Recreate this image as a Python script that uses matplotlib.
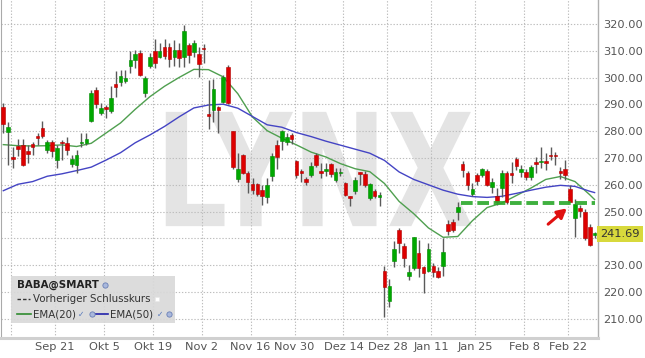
import numpy as np
import matplotlib
matplotlib.use("Agg")
import matplotlib.pyplot as plt
import matplotlib.transforms as mtransforms
from matplotlib.textpath import TextPath
from matplotlib.patches import PathPatch, Rectangle
from matplotlib.font_manager import FontProperties

# BABA daily candles, one entry per trading day (Sep 3 2020 .. Mar 1 2021)
opens = [
  289.2, 279.7, 270.3, 274.6, 274.9, 272.6, 275.2, 277.9, 281.1, 273.0,
  275.8, 269.3, 276.0, 275.5, 267.8, 267.4, 275.5, 275.5, 283.9, 295.4,
  286.7, 289.2, 287.6, 297.8, 298.5, 298.9, 304.3, 306.6, 309.3, 294.1,
  304.3, 310.0, 307.6, 311.5, 311.5, 307.6, 310.3, 307.6, 312.2, 309.7,
  309.0, 311.0, 286.2, 287.9, 289.2, 291.0, 304.1, 280.1, 262.1, 271.0,
  264.5, 260.3, 260.3, 258.0, 255.3, 263.3, 274.9, 276.4, 276.1, 278.6,
  268.9, 265.3, 262.0, 263.7, 271.1, 265.0, 265.3, 267.6, 261.8, 264.3,
  260.6, 255.5, 257.7, 264.7, 264.0, 255.0, 257.7, 255.6, 227.9, 216.8,
  231.6, 243.1, 237.2, 226.1, 228.8, 234.4, 229.2, 228.0, 229.5, 228.0,
  229.7, 245.3, 246.2, 250.0, 267.8, 264.3, 256.6, 263.7, 263.7, 265.1,
  259.1, 256.0, 258.7, 264.5, 264.5, 269.6, 264.8, 264.9, 263.0, 268.6,
  268.5, 268.8, 271.0, 271.0, 265.3, 265.8, 258.3, 247.5, 251.5, 250.0,
  244.4, 241.3]

highs = [
  290.6, 283.5, 274.2, 277.0, 277.0, 274.9, 276.1, 279.3, 283.8, 276.7,
  276.7, 275.0, 276.7, 277.7, 271.1, 273.0, 279.2, 279.2, 295.4, 296.5,
  290.4, 289.8, 296.9, 302.6, 302.8, 302.8, 310.0, 310.3, 310.3, 300.6,
  309.1, 314.3, 312.8, 314.3, 312.8, 314.0, 312.8, 319.6, 313.0, 314.0,
  311.3, 312.5, 299.1, 299.4, 289.5, 301.0, 304.6, 280.1, 271.8, 271.5,
  265.3, 262.4, 260.5, 259.9, 262.4, 271.8, 276.7, 280.4, 279.2, 279.4,
  269.3, 265.8, 263.0, 268.6, 271.8, 268.2, 268.2, 268.2, 266.2, 266.2,
  261.2, 255.8, 263.0, 264.9, 265.3, 260.6, 258.3, 257.4, 229.7, 224.7,
  239.0, 243.8, 238.2, 230.1, 240.6, 239.4, 229.7, 238.2, 230.7, 229.4,
  240.0, 246.9, 247.1, 253.7, 268.9, 265.0, 260.6, 264.3, 266.2, 266.0,
  262.4, 258.7, 265.5, 265.0, 268.6, 270.3, 267.3, 265.8, 267.3, 270.5,
  274.3, 272.0, 274.2, 272.4, 266.8, 269.3, 260.0, 254.8, 252.5, 251.0,
  245.5, 242.5]

lows = [
  279.4, 267.4, 266.2, 270.7, 267.0, 268.0, 271.1, 274.9, 277.3, 271.7,
  270.5, 266.2, 269.3, 271.1, 266.8, 264.5, 274.2, 274.9, 283.5, 288.5,
  286.0, 284.8, 286.7, 292.6, 296.9, 297.9, 301.6, 303.5, 300.6, 292.6,
  303.5, 303.5, 307.2, 306.8, 304.1, 304.3, 304.0, 304.0, 305.3, 307.8,
  300.3, 305.3, 280.7, 283.5, 279.4, 290.4, 290.0, 266.0, 261.2, 264.0,
  257.0, 256.6, 255.8, 252.5, 253.1, 261.5, 265.8, 273.0, 274.9, 275.2,
  262.4, 261.2, 259.9, 263.0, 266.8, 262.4, 263.3, 263.0, 261.2, 263.3,
  255.8, 252.0, 256.6, 259.9, 259.3, 254.3, 255.0, 252.0, 210.8, 214.5,
  229.2, 234.4, 229.2, 224.5, 228.2, 225.7, 219.7, 227.3, 225.7, 225.1,
  226.0, 241.2, 242.5, 246.9, 263.0, 258.0, 256.0, 259.9, 263.0, 259.5,
  256.8, 252.5, 255.6, 252.8, 260.6, 265.5, 263.0, 261.8, 261.8, 264.3,
  266.3, 265.5, 269.3, 267.4, 262.3, 261.8, 253.5, 240.6, 248.0, 239.5,
  237.0, 240.0]

closes = [
  282.7, 281.5, 269.8, 273.2, 267.4, 271.5, 274.2, 277.5, 278.2, 275.8,
  272.6, 273.9, 275.5, 273.0, 269.8, 271.0, 276.0, 277.0, 294.1, 290.1,
  288.5, 288.4, 292.3, 296.6, 300.6, 300.0, 306.6, 309.0, 301.0, 299.7,
  307.6, 305.6, 310.0, 308.0, 306.8, 310.3, 307.2, 317.5, 308.4, 312.8,
  305.0, 310.6, 285.7, 295.6, 287.9, 300.3, 290.6, 266.8, 265.8, 264.5,
  261.0, 258.0, 256.6, 255.8, 259.9, 270.7, 270.3, 280.1, 277.7, 277.0,
  263.5, 264.3, 261.2, 267.0, 267.4, 264.3, 265.9, 264.0, 264.9, 264.6,
  256.2, 255.1, 261.8, 264.0, 259.9, 260.3, 255.9, 255.9, 221.8, 222.2,
  235.9, 238.4, 232.6, 227.4, 240.4, 228.8, 227.0, 235.9, 227.3, 225.5,
  235.0, 242.6, 243.1, 251.8, 265.5, 259.9, 258.3, 261.5, 265.8, 259.9,
  261.0, 253.7, 264.5, 253.7, 263.5, 267.1, 265.8, 263.0, 266.7, 267.9,
  268.7, 268.3, 270.6, 270.6, 264.4, 263.6, 253.7, 253.0, 250.3, 240.0,
  237.5, 241.69]

# x axis: trading-day index of each labelled date
tick_days = [2, 11, 21, 31, 41, 51, 60, 70, 79, 88, 97, 107, 116]
tick_labels = ["", "Sep 21", "Okt 5", "Okt 19", "Nov 2", "Nov 16", "Nov 30",
               "Dez 14", "Dez 28", "Jan 11", "Jan 25", "Feb 8", "Feb 22"]

# moving averages, every third trading day
ema_days = [0, 3, 6, 9, 12, 15, 18, 21, 24, 27, 30, 33, 36, 39, 42, 45, 48, 51, 54, 57, 60,
            63, 66, 69, 72, 75, 78, 81, 84, 87, 90, 93, 96, 99, 102, 105, 108, 111, 114, 117, 120, 121]
ema20 = [275.0, 274.6, 274.5, 274.6, 274.9, 274.3, 275.5, 279.3, 283.1, 288.2,
         292.9, 296.8, 300.1, 303.1, 303.0, 300.3, 294.0, 285.3, 280.2, 277.4,
         274.9, 272.2, 270.4, 267.9, 266.0, 264.9, 260.5, 253.8, 249.2, 243.9,
         240.4, 240.7, 246.6, 251.5, 253.2, 256.0, 258.8, 262.0, 263.1, 261.2,
         256.3, 254.5]
ema50 = [257.8, 260.2, 261.2, 263.2, 264.1, 265.3, 266.6, 269.2, 272.0, 275.7,
         278.6, 281.8, 285.4, 288.7, 289.8, 290.1, 288.6, 285.5, 282.4, 281.5,
         279.5, 278.0, 276.3, 274.8, 273.3, 271.8, 269.1, 264.8, 262.0, 260.0,
         258.0, 256.5, 255.6, 255.3, 255.7, 256.8, 258.0, 259.1, 259.8, 259.4,
         257.6, 257.1]

last_price = 241.69
support_level = 253.1
support_from, support_to = 93.7, 121.0
arrow_tail = (111.5, 245.3)
arrow_head = (115.3, 251.2)

RED = "#dd0000"
GREEN = "#00a800"

fig = plt.figure(figsize=(6.45, 3.58), dpi=100, facecolor="white")
ax = fig.add_axes([1 / 645, 20 / 358, 597 / 645, 338 / 358])

days = np.arange(len(closes))
o = np.array(opens)
c = np.array(closes)
up = c >= o
colors = np.where(up, GREEN, RED)
edges = np.where(up, "#008a00", "#b00000")

# big watermark behind everything
fp = FontProperties(family="DejaVu Sans", weight="bold")
tp = TextPath((0, 0), "LYNX", size=100, prop=fp)
bb = tp.get_extents()
x0, x1, y0, y1 = 0.276, 0.789, 0.331, 0.669
tr = (mtransforms.Affine2D().translate(-bb.x0, -bb.y0)
      .scale((x1 - x0) / bb.width, (y1 - y0) / bb.height)
      .translate(x0, y0) + ax.transAxes)
ax.add_patch(PathPatch(tp, transform=tr, fc="#e4e4e4", ec="none", zorder=0.3))

# moving averages
ax.plot(ema_days, ema20, color="#4f9f4f", lw=1.0, zorder=2)
ax.plot(ema_days, ema50, color="#4444c4", lw=1.0, zorder=2)

# candles
ax.vlines(days, lows, highs, color="#5a5a5a", lw=1.0, zorder=3)
body = np.maximum(np.abs(c - o), 0.55)
ax.bar(days, body, bottom=np.minimum(o, c), width=0.74, color=colors,
       edgecolor=edges, linewidth=0.4, zorder=4)

# support line and arrow
ax.plot([support_from, support_to], [support_level, support_level], color="#2aa82a",
        lw=2.8, linestyle=(0, (3, 1.2)), alpha=0.9, zorder=5, solid_capstyle="butt")
ax.annotate("", xy=arrow_head, xytext=arrow_tail, zorder=6,
            arrowprops=dict(arrowstyle="-|>,head_length=0.55,head_width=0.3",
                            color="#e01010", lw=2.2, shrinkA=0, shrinkB=0))

# axes styling
ax.set_xlim(-0.47, 121.7)
ax.set_ylim(202.8, 329.0)
ax.set_xticks([d - 0.4 for d in tick_days])
ax.set_xticklabels(tick_labels)
ax.set_yticks(np.arange(210, 321, 10))
ax.set_yticklabels([f"{v:.2f}" for v in np.arange(210, 321, 10)])
ax.yaxis.tick_right()
ax.tick_params(axis="y", length=0, pad=3.6, labelsize=8.2, labelcolor="#555555")
ax.tick_params(axis="x", length=0, pad=3.2, labelsize=8.2, labelcolor="#555555")
ax.set_axisbelow(True)
ax.grid(True, color="#bdbdbd", linestyle=(0, (1.2, 1.6)), lw=0.8)
ax.spines["top"].set_visible(False)
ax.spines["left"].set_color("#aaaaaa")
ax.spines["left"].set_linewidth(0.8)
ax.spines["right"].set_color("#b0b0b0")
ax.spines["right"].set_linewidth(1.0)
ax.spines["bottom"].set_color("#d0d0d0")
ax.spines["bottom"].set_linewidth(2.2)

# last price tag on the right axis
blend = mtransforms.blended_transform_factory(ax.transAxes, ax.transData)
ax.text(1.004, last_price, f"{last_price:.2f}", transform=blend, ha="left", va="center",
        fontsize=8.2, color="#333333", zorder=10, clip_on=False,
        bbox=dict(boxstyle="square,pad=0.28", fc="#d8d93c", ec="none"))

# legend box (bottom left)
ax.add_patch(Rectangle((0.0167, 0.044), 0.274, 0.139, transform=ax.transAxes,
                       fc="#d9d9d9", ec="none", alpha=0.92, zorder=7))
lkw = dict(transform=ax.transAxes, va="center", zorder=8, fontsize=7.4)
ax.text(0.0268, 0.157, "BABA@SMART", fontweight="bold", color="#222222", **lkw)
ax.plot([0.0268, 0.049], [0.115, 0.115], color="#333333", lw=1.0, linestyle=(0, (2.5, 1.5)),
        transform=ax.transAxes, zorder=8)
ax.text(0.0536, 0.115, "Vorheriger Schlusskurs", color="#333333", **lkw)
ax.plot([0.0268, 0.0502], [0.071, 0.071], color="#2e8b2e", lw=1.2, transform=ax.transAxes, zorder=8)
ax.text(0.0536, 0.071, "EMA(20)", color="#333333", **lkw)
ax.plot([0.157, 0.179], [0.071, 0.071], color="#2222aa", lw=1.2, transform=ax.transAxes, zorder=8)
ax.text(0.1826, 0.071, "EMA(50)", color="#333333", **lkw)
for xc in (0.134, 0.266):
    ax.text(xc, 0.071, "\u2713", color="#5577bb", transform=ax.transAxes, va="center",
            ha="center", fontsize=5.5, zorder=8)
for xc, yc in ((0.174, 0.157), (0.152, 0.071), (0.281, 0.071)):
    ax.plot(xc, yc, marker="o", ms=3.8, mfc="#a9b8dc", mec="#6a7fb5", mew=0.6,
            transform=ax.transAxes, zorder=8)
ax.plot(0.261, 0.115, marker="s", ms=3.2, mfc="white", mec="#e8e8e8", mew=0.4,
        transform=ax.transAxes, zorder=8)

fig.savefig("out.png", dpi=100, facecolor="white")
plt.close(fig)
